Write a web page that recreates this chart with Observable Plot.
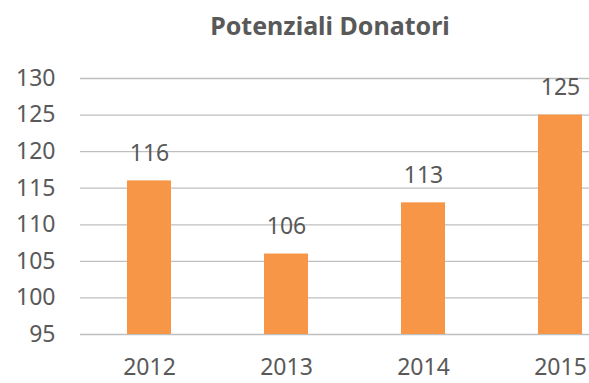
<!DOCTYPE html>
<html>
<head>
<meta charset="utf-8">
<script src="https://cdn.jsdelivr.net/npm/d3@7"></script>
<script src="https://cdn.jsdelivr.net/npm/@observablehq/plot@0.6"></script>
<style>
  body { margin: 0; background: #fff; }
  #chart { position: relative; width: 589px; height: 383px; overflow: hidden; font-family: "Noto Sans", sans-serif; }
  #chart svg { display: block; max-width: none !important; }
  #title { position: absolute; left: 0; top: 13px; width: 660px; text-align: center;
           font-size: 25px; font-weight: bold; color: #595959; line-height: 1; }
</style>
</head>
<body>
<div id="chart"><div id="title">Potenziali Donatori</div></div>
<script>
// Potential donors per year
const years = ["2012", "2013", "2014", "2015"];
const donors = [116, 106, 113, 125];
const yTicks = [95, 100, 105, 110, 115, 120, 125, 130];
const yBase = 95;

const data = years.map((year, i) => ({year, value: donors[i]}));

const plot = Plot.plot({
  width: 629,
  height: 383,
  marginLeft: 80,
  marginRight: 0,
  marginTop: 78,
  marginBottom: 49,
  style: {fontFamily: '"Noto Sans", sans-serif', fontSize: "23px", color: "#595959", background: "transparent", maxWidth: "none"},
  x: {domain: years, paddingInner: 0.68, paddingOuter: 0.34, label: null, tickSize: 0, tickPadding: 24},
  y: {domain: [yBase, 130], ticks: yTicks, label: null, tickSize: 0, tickPadding: 25},
  marks: [
    Plot.ruleY(yTicks, {stroke: "#bfbfbf", strokeWidth: 1.3}),
    Plot.barY(data, {x: "year", y1: yBase, y2: "value", fill: "#F79646"}),
    Plot.text(data, {x: "year", y: "value", text: d => String(d.value), dy: -27, fill: "#595959", fontSize: 23})
  ]
});

document.getElementById("chart").appendChild(plot);
</script>
</body>
</html>
